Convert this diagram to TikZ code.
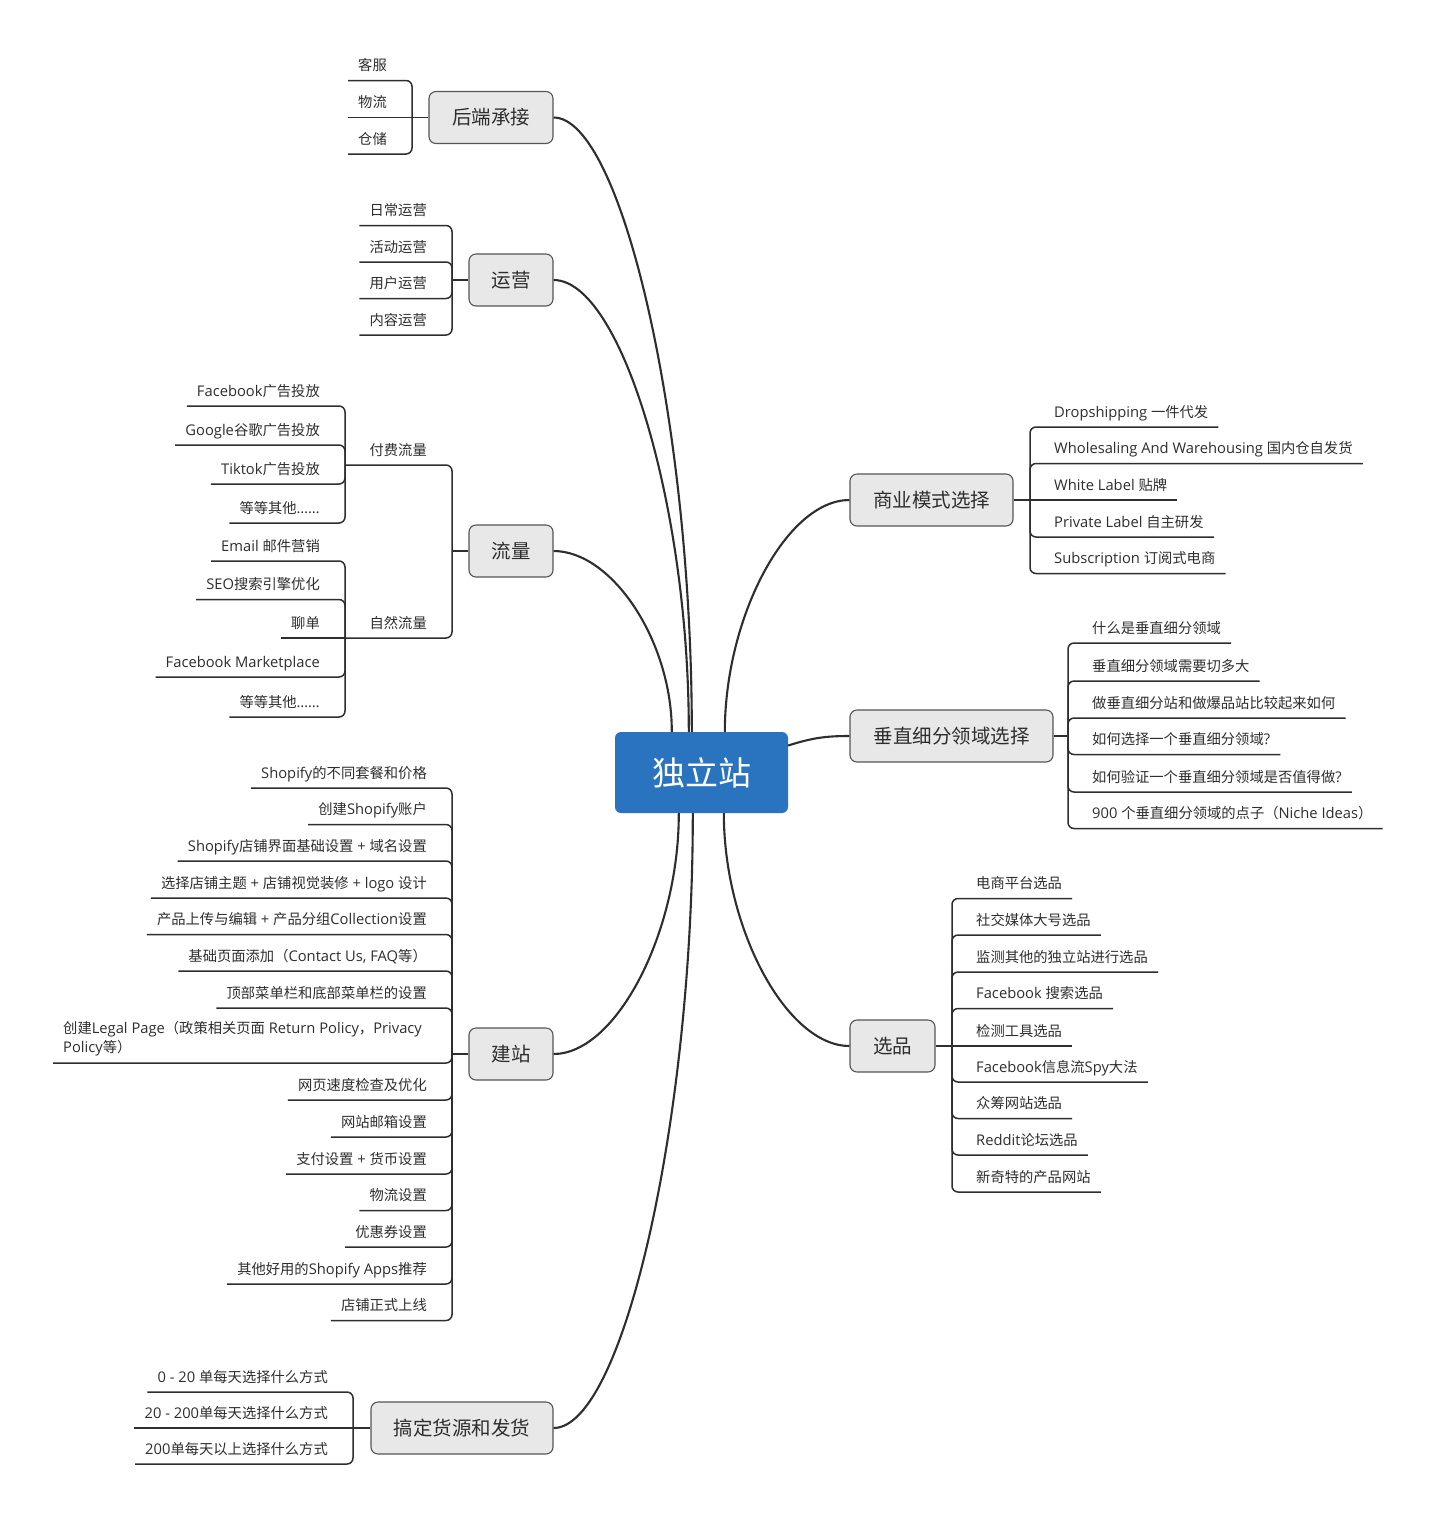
\documentclass[tikz,border=0pt]{standalone}
\usepackage{fontspec}
\setmainfont{Open Sans}[Scale=1.03]
\newfontfamily\latinf{Open Sans}[Scale=1.03]
\newfontfamily\cjk{Noto Sans CJK SC}
\XeTeXinterchartokenstate=1
\newXeTeXintercharclass\cjkclass
\makeatletter
\count@="3000
\loop\ifnum\count@<"3040 \XeTeXcharclass\count@=\cjkclass \advance\count@ 1 \repeat
\count@="4E00
\loop\ifnum\count@<"A000 \XeTeXcharclass\count@=\cjkclass \advance\count@ 1 \repeat
\count@="FF00
\loop\ifnum\count@<"FFF0 \XeTeXcharclass\count@=\cjkclass \advance\count@ 1 \repeat
\makeatother
\XeTeXinterchartoks 0 \cjkclass={\cjk}
\XeTeXinterchartoks 4095 \cjkclass={\cjk}
\XeTeXinterchartoks \cjkclass 0={\latinf}
\XeTeXinterchartoks \cjkclass 4095={\latinf}
\definecolor{lc}{HTML}{2E2E2E}
\definecolor{bd}{HTML}{555555}
\definecolor{gfill}{HTML}{E8E8E8}
\definecolor{tc}{HTML}{2E2E2E}
\definecolor{blue1}{HTML}{2A73BE}
\begin{document}
\begin{tikzpicture}[x=1pt,y=-1pt,
  line/.style={draw=lc, line width=1.5pt},
  curve/.style={draw=lc, line width=2.1pt},
  br/.style={line, rounded corners=6pt},
  mainnode/.style={draw=bd, fill=gfill, rounded corners=7pt, line width=1.1pt, text=tc,
    font=\fontsize{19.5}{23}\selectfont, minimum height=52pt, inner sep=0pt},
  leafbase/.style={text=tc, font=\fontsize{14.3}{19}\selectfont, inner xsep=10pt, inner ysep=6.7pt},
  leafL/.style={leafbase, anchor=south east, text height=11pt, text depth=3pt},
  leafR/.style={leafbase, anchor=south west, text height=11pt, text depth=3pt}
]
\fill[white] (0,0) rectangle (1440,1519);
\useasboundingbox (0,0) rectangle (1440,1519);

% central
\node[fill=blue1, rounded corners=6pt, minimum width=173pt, minimum height=81pt, inner sep=0pt,
  text=white, font=\fontsize{33}{38}\selectfont] (c) at (701.5,772.5) {独立站};

% main nodes
\node[mainnode, minimum width=124pt] (hd) at (491,117.5) {后端承接};
\node[mainnode, minimum width=84pt] (yy) at (511,280) {运营};
\node[mainnode, minimum width=84pt] (ll) at (511,551) {流量};
\node[mainnode, minimum width=84pt] (jz) at (511,1054) {建站};
\node[mainnode, minimum width=182pt] (gd) at (462,1428) {搞定货源和发货};
\node[mainnode, minimum width=163pt] (sy) at (931.5,500) {商业模式选择};
\node[mainnode, minimum width=203pt] (cz) at (951.5,736) {垂直细分领域选择};
\node[mainnode, minimum width=85pt] (xp) at (892.5,1046) {选品};

% main curves
\draw[curve] (hd.east) .. controls (622,117.5) and (692,425) .. ([xshift=77pt]c.north west);
\draw[curve] (yy.east) .. controls (621,280) and (689,506) .. ([xshift=74pt]c.north west);
\draw[curve] (ll.east) .. controls (612,551) and (672,641) .. ([xshift=57pt]c.north west);
\draw[curve] (jz.east) .. controls (616,1054) and (679,933) .. ([xshift=64pt]c.south west);
\draw[curve] (gd.east) .. controls (623,1428) and (693,1120) .. ([xshift=78pt]c.south west);
\draw[curve] (sy.west) .. controls (787,500) and (725,616) .. ([xshift=110pt]c.north west);
\draw[curve] (xp.west) .. controls (787,1046) and (724,930) .. ([xshift=109pt]c.south west);
\draw[curve] ([yshift=27pt]c.east) .. controls (812,738) and (825,736) .. (cz.west);

% ---------- 后端承接
\coordinate (hdb) at (412,117.5);
\draw[line] (hd.west) -- (hdb);
\node[leafL] (hd1) at (397,80.5) {客服};
\node[leafL] (hd2) at (397,117.5) {物流};
\node[leafL] (hd3) at (397,154) {仓储};
\draw[br] (hdb) |- (hd1.south west);
\draw[line] (hdb) -- (hd2.south west);
\draw[br] (hdb) |- (hd3.south west);

% ---------- 运营
\coordinate (yyb) at (452,280);
\draw[line] (yy.west) -- (yyb);
\node[leafL] (yy1) at (437,225.5) {日常运营};
\node[leafL] (yy2) at (437,262) {活动运营};
\node[leafL] (yy3) at (437,298.5) {用户运营};
\node[leafL] (yy4) at (437,335) {内容运营};
\draw[br] (yyb) |- (yy1.south west);
\draw[br] (yyb) |- (yy2.south west);
\draw[br] (yyb) |- (yy3.south west);
\draw[br] (yyb) |- (yy4.south west);

% ---------- 流量
\coordinate (llb) at (452,551);
\draw[line] (ll.west) -- (llb);
\node[leafL] (ff) at (437,465) {付费流量};
\node[leafL] (zr) at (437,638) {自然流量};
\coordinate (ffb) at (345,465);
\coordinate (zrb) at (345,638);
\draw[br] (llb) |- (ff.south west) -- (ffb);
\draw[br] (llb) |- (zr.south west) -- (zrb);
\node[leafL] (ff1) at (330,406) {Facebook广告投放};
\node[leafL] (ff2) at (330,445) {Google谷歌广告投放};
\node[leafL] (ff3) at (330,484) {Tiktok广告投放};
\node[leafL] (ff4) at (330,523) {等等其他……};
\draw[br] (ffb) |- (ff1.south west);
\draw[br] (ffb) |- (ff2.south west);
\draw[br] (ffb) |- (ff3.south west);
\draw[br] (ffb) |- (ff4.south west);
\node[leafL] (zr1) at (330,561) {Email 邮件营销};
\node[leafL] (zr2) at (330,599.5) {SEO搜索引擎优化};
\node[leafL] (zr3) at (330,638) {聊单};
\node[leafL] (zr4) at (330,677) {Facebook Marketplace};
\node[leafL] (zr5) at (330,717) {等等其他……};
\draw[br] (zrb) |- (zr1.south west);
\draw[br] (zrb) |- (zr2.south west);
\draw[line] (zrb) -- (zr3.south west);
\draw[br] (zrb) |- (zr4.south west);
\draw[br] (zrb) |- (zr5.south west);

% ---------- 建站
\coordinate (jzb) at (452,1054);
\draw[line] (jz.west) -- (jzb);
\node[leafL] (j1) at (437,788) {Shopify的不同套餐和价格};
\node[leafL] (j2) at (437,824.5) {创建Shopify账户};
\node[leafL] (j3) at (437,861) {Shopify店铺界面基础设置 + 域名设置};
\node[leafL] (j4) at (437,898) {选择店铺主题 + 店铺视觉装修 + logo 设计};
\node[leafL] (j5) at (437,934.5) {产品上传与编辑 + 产品分组Collection设置};
\node[leafL] (j6) at (437,971) {基础页面添加（Contact Us, FAQ等）};
\node[leafL] (j7) at (437,1008) {顶部菜单栏和底部菜单栏的设置};
\node[leafbase, anchor=south west, align=left] (j8) at (53,1063) {创建Legal Page（政策相关页面 Return Policy，Privacy\\Policy等）};
\node[leafL] (j9) at (437,1100) {网页速度检查及优化};
\node[leafL] (j10) at (437,1137) {网站邮箱设置};
\node[leafL] (j11) at (437,1174) {支付设置 + 货币设置};
\node[leafL] (j12) at (437,1210.5) {物流设置};
\node[leafL] (j13) at (437,1247) {优惠券设置};
\node[leafL] (j14) at (437,1284) {其他好用的Shopify Apps推荐};
\node[leafL] (j15) at (437,1320.5) {店铺正式上线};
\foreach \n in {j1,j2,j3,j4,j5,j6,j7,j8,j9,j10,j11,j12,j13,j14,j15}
  \draw[br] (jzb) |- (\n.south west);

% ---------- 搞定货源和发货
\coordinate (gdb) at (353,1428);
\draw[line] (gd.west) -- (gdb);
\node[leafL] (g1) at (338,1392) {0 - 20 单每天选择什么方式};
\node[leafL] (g2) at (338,1428) {20 - 200单每天选择什么方式};
\node[leafL] (g3) at (338,1464) {200单每天以上选择什么方式};
\draw[br] (gdb) |- (g1.south west);
\draw[line] (gdb) -- (g2.south west);
\draw[br] (gdb) |- (g3.south west);

% ---------- 商业模式选择
\coordinate (syb) at (1030,500);
\draw[line] (sy.east) -- (syb);
\node[leafR] (s1) at (1044,427) {Dropshipping 一件代发};
\node[leafR] (s2) at (1044,463.5) {Wholesaling And Warehousing 国内仓自发货};
\node[leafR] (s3) at (1044,500) {White Label 贴牌};
\node[leafR] (s4) at (1044,537) {Private Label 自主研发};
\node[leafR] (s5) at (1044,573.5) {Subscription 订阅式电商};
\draw[br] (syb) |- (s1.south west) -- (s1.south east);
\draw[br] (syb) |- (s2.south west) -- (s2.south east);
\draw[line] (syb) -- (s3.south east);
\draw[br] (syb) |- (s4.south west) -- (s4.south east);
\draw[br] (syb) |- (s5.south west) -- (s5.south east);

% ---------- 垂直细分领域选择
\coordinate (czb) at (1068,736);
\draw[line] (cz.east) -- (czb);
\node[leafR] (v1) at (1082,643) {什么是垂直细分领域};
\node[leafR] (v2) at (1082,681) {垂直细分领域需要切多大};
\node[leafR] (v3) at (1082,718) {做垂直细分站和做爆品站比较起来如何};
\node[leafR] (v4) at (1082,754.5) {如何选择一个垂直细分领域?};
\node[leafR] (v5) at (1082,792) {如何验证一个垂直细分领域是否值得做?};
\node[leafR] (v6) at (1082,828.5) {900 个垂直细分领域的点子（Niche Ideas）};
\foreach \n in {v1,v2,v3,v4,v5,v6}
  \draw[br] (czb) |- (\n.south west) -- (\n.south east);

% ---------- 选品
\coordinate (xpb) at (952,1046);
\draw[line] (xp.east) -- (xpb);
\node[leafR] (p1) at (966,898.5) {电商平台选品};
\node[leafR] (p2) at (966,935) {社交媒体大号选品};
\node[leafR] (p3) at (966,972) {监测其他的独立站进行选品};
\node[leafR] (p4) at (966,1008.5) {Facebook 搜索选品};
\node[leafR] (p5) at (966,1046) {检测工具选品};
\node[leafR] (p6) at (966,1082) {Facebook信息流Spy大法};
\node[leafR] (p7) at (966,1118.5) {众筹网站选品};
\node[leafR] (p8) at (966,1155) {Reddit论坛选品};
\node[leafR] (p9) at (966,1192) {新奇特的产品网站};
\foreach \n in {p1,p2,p3,p4,p6,p7,p8,p9}
  \draw[br] (xpb) |- (\n.south west) -- (\n.south east);
\draw[line] (xpb) -- (p5.south east);
\end{tikzpicture}
\end{document}
